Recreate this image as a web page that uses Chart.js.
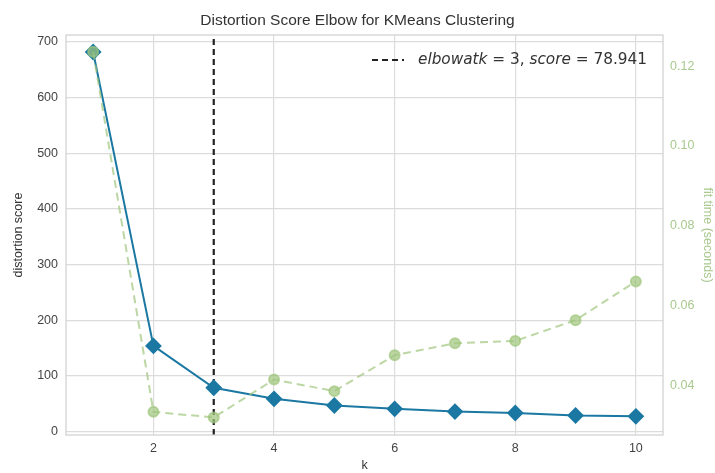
<!DOCTYPE html>
<html>
<head>
<meta charset="utf-8">
<script src="https://cdn.jsdelivr.net/npm/chart.js@4"></script>
<style>
  html, body { margin: 0; padding: 0; background: #fff; }
  #box { width: 715px; height: 473px; }
</style>
</head>
<body>
<div id="box"><canvas id="graficoElbow"></canvas></div>
<script>
// dados
var kValues = [1, 2, 3, 4, 5, 6, 7, 8, 9, 10];
var distortionScores = [682, 154, 78.941, 59, 47, 41, 36, 33.5, 29, 27.5];
var fitTimes = [0.1236, 0.0333, 0.0319, 0.0414, 0.0385, 0.0475, 0.0505, 0.0511, 0.0563, 0.0660];
var elbowK = 3;
var elbowScore = 78.941;
var xTicks = [2, 4, 6, 8, 10];
var yTicks = [0, 100, 200, 300, 400, 500, 600, 700];
var y1Ticks = [0.04, 0.06, 0.08, 0.10, 0.12];

var azul = "#1b78a2";
var verde = "rgba(160,198,125,0.7)";
var verdeTexto = "#a9c98f";
var fonte = "'Liberation Sans', Arial, sans-serif";

function pontos(ys) {
    return kValues.map(function (k, i) { return { x: k, y: ys[i] }; });
}

// borda do grafico + legenda dentro da area
var extras = {
    id: "extras",
    afterDraw: function (chart) {
        var ctx = chart.ctx;
        var a = chart.chartArea;
        ctx.save();
        ctx.strokeStyle = "#cfcfcf";
        ctx.lineWidth = 1.2;
        ctx.strokeRect(a.left, a.top, a.right - a.left, a.bottom - a.top);

        // legenda
        var y = a.top + 25;
        ctx.strokeStyle = "#222";
        ctx.lineWidth = 2.2;
        ctx.setLineDash([6, 4]);
        ctx.beginPath();
        ctx.moveTo(a.right - 291, y);
        ctx.lineTo(a.right - 259, y);
        ctx.stroke();
        ctx.setLineDash([]);

        var partes = [
            ["italic", "elbowatk"], ["normal", " = 3, "],
            ["italic", "score"], ["normal", " = 78.941"]
        ];
        var x = a.right - 245;
        ctx.fillStyle = "#333";
        ctx.textBaseline = "middle";
        partes.forEach(function (p) {
            ctx.font = p[0] + " 15.3px 'DejaVu Sans', sans-serif";
            ctx.fillText(p[1], x, y);
            x += ctx.measureText(p[1]).width;
        });
        ctx.restore();
    }
};

var ctx = graficoElbow.getContext("2d");

new Chart(ctx, {
    type: "line",
    data: {
        datasets: [{
            label: "fit time",
            data: pontos(fitTimes),
            yAxisID: "y1",
            borderColor: verde,
            backgroundColor: verde,
            pointBackgroundColor: verde,
            pointBorderColor: verde,
            borderDash: [8, 5],
            borderWidth: 2,
            pointRadius: 5,
            pointStyle: "circle",
            order: 0
        }, {
            label: "distortion score",
            data: pontos(distortionScores),
            yAxisID: "y",
            borderColor: azul,
            backgroundColor: azul,
            pointBackgroundColor: azul,
            pointBorderColor: azul,
            borderWidth: 2,
            pointRadius: 7,
            pointStyle: "rectRot",
            order: 1
        }, {
            label: "elbow at k = " + elbowK + ", score = " + elbowScore,
            data: [{ x: elbowK, y: -6 }, { x: elbowK, y: 712 }],
            yAxisID: "y",
            borderColor: "#222",
            borderDash: [6, 4],
            borderWidth: 2.2,
            pointRadius: 0,
            order: 2
        }]
    },
    options: {
        responsive: true,
        maintainAspectRatio: false,
        animation: false,
        layout: { padding: 0 },
        scales: {
            x: {
                type: "linear",
                min: 0.55,
                max: 10.45,
                afterBuildTicks: function (s) { s.ticks = xTicks.map(function (v) { return { value: v }; }); },
                afterFit: function (s) { s.height = 38; },
                ticks: { color: "#444", font: { family: fonte, size: 12.5 }, padding: 6 },
                grid: { color: "#dcdcdc", lineWidth: 1.2, drawTicks: false },
                border: { display: false },
                title: { display: true, text: "k", color: "#333", font: { family: fonte, size: 12.5 }, padding: { top: 5, bottom: 0 } }
            },
            y: {
                position: "left",
                min: -6,
                max: 712.5,
                afterBuildTicks: function (s) { s.ticks = yTicks.map(function (v) { return { value: v }; }); },
                afterFit: function (s) { s.width = 66; },
                ticks: { color: "#444", font: { family: fonte, size: 12.5 }, padding: 8 },
                grid: { color: "#dcdcdc", lineWidth: 1.2, drawTicks: false },
                border: { display: false },
                title: { display: true, text: "distortion score", color: "#333", font: { family: fonte, size: 12.5 }, padding: { top: 11, bottom: 0 } }
            },
            y1: {
                position: "right",
                min: 0.0275,
                max: 0.1278,
                afterBuildTicks: function (s) { s.ticks = y1Ticks.map(function (v) { return { value: v }; }); },
                afterFit: function (s) { s.width = 52; },
                ticks: {
                    color: verdeTexto,
                    font: { family: fonte, size: 12.5 },
                    padding: 7,
                    callback: function (v) { return v.toFixed(2); }
                },
                grid: { display: false, drawTicks: false },
                border: { display: false },
                title: { display: true, text: "fit time (seconds)", color: verdeTexto, font: { family: fonte, size: 12.5 }, padding: { top: 0, bottom: 2 } }
            }
        },
        plugins: {
            legend: { display: false },
            tooltip: { enabled: false },
            title: {
                display: true,
                text: "Distortion Score Elbow for KMeans Clustering",
                color: "#333",
                font: { family: fonte, size: 15.5, weight: "normal" },
                padding: { top: 11, bottom: 5.4 }
            }
        }
    },
    plugins: [extras]
});
</script>
</body>
</html>
